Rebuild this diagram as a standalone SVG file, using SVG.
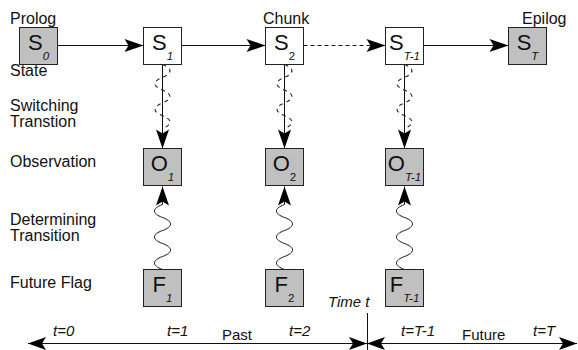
<svg xmlns="http://www.w3.org/2000/svg" width="578" height="350" viewBox="0 0 578 350">
  <style>
    text { font-family: "Liberation Sans", Arial, sans-serif; fill: #111; }
    .lbl { font-size: 16px; }
    .tl { font-size: 15px; font-style: italic; }
    .tn { font-size: 15px; }
    .box { stroke: #222; stroke-width: 1; }
    .shade { fill: #c0c0c0; }
    .plain { fill: #fff; }
    .nm { font-size: 22px; text-anchor: middle; }
    .sub { font-size: 11.5px; }
    .it { font-style: italic; }
    .ln { fill: none; stroke: #111; stroke-width: 1; }
    .dash { stroke-dasharray: 4 3; }
    .wdash { fill: none; stroke: #222; stroke-width: 1.1; stroke-dasharray: 4 4; }
  </style>
  <defs>
    <marker id="ah" markerUnits="userSpaceOnUse" markerWidth="22" markerHeight="16" viewBox="-20 -8 22 16" refX="0" refY="0" orient="auto">
      <path d="M0,0 L-19,-6.5 L-15,0 L-19,6.5 Z" fill="#000"/>
    </marker>
    <marker id="ah2" markerUnits="userSpaceOnUse" markerWidth="22" markerHeight="16" viewBox="-20 -8 22 16" refX="0" refY="0" orient="auto-start-reverse">
      <path d="M0,0 L-18,-6.5 L-14,0 L-18,6.5 Z" fill="#000"/>
    </marker>
  </defs>

  <!-- row and side labels -->
  <g id="labels">
    <text class="lbl" x="10" y="24">Prolog</text>
    <text class="lbl" x="10" y="76">State</text>
    <text class="lbl" x="10" y="111">Switching</text>
    <text class="lbl" x="10" y="127">Transtion</text>
    <text class="lbl" x="10" y="167">Observation</text>
    <text class="lbl" x="10" y="225">Determining</text>
    <text class="lbl" x="10" y="241">Transition</text>
    <text class="lbl" x="10" y="288">Future Flag</text>
    <text class="lbl" x="263" y="24">Chunk</text>
    <text class="lbl" x="522" y="24">Epilog</text>
  </g>

  <!-- connectors -->
  <g id="connectors">
    <!-- state chain -->
    <line class="ln" x1="57.5" y1="45.5" x2="143.5" y2="45.5" marker-end="url(#ah)"/>
    <line class="ln" x1="181.5" y1="45.5" x2="265.5" y2="45.5" marker-end="url(#ah)"/>
    <line class="ln dash" x1="303.5" y1="45.5" x2="385.5" y2="45.5" marker-end="url(#ah)"/>
    <line class="ln" x1="423.5" y1="45.5" x2="508.5" y2="45.5" marker-end="url(#ah)"/>

    <!-- switching transitions: state to observation -->
    <line class="ln" x1="162.5" y1="64.5" x2="162.5" y2="148.5" marker-end="url(#ah)"/>
    <line class="ln" x1="284.5" y1="64.5" x2="284.5" y2="148.5" marker-end="url(#ah)"/>
    <line class="ln" x1="404.5" y1="64.5" x2="404.5" y2="148.5" marker-end="url(#ah)"/>
    <path class="wdash" d="M162.5,64.5 c10,3.8 10,9 0,12.8 c-10,3.8 -10,9 0,12.8 c10,3.8 10,9 0,12.8 c-10,3.8 -10,9 0,12.8 c10,3.8 10,9 0,12.8"/>
    <path class="wdash" d="M284.5,64.5 c10,3.8 10,9 0,12.8 c-10,3.8 -10,9 0,12.8 c10,3.8 10,9 0,12.8 c-10,3.8 -10,9 0,12.8 c10,3.8 10,9 0,12.8"/>
    <path class="wdash" d="M404.5,64.5 c10,3.8 10,9 0,12.8 c-10,3.8 -10,9 0,12.8 c10,3.8 10,9 0,12.8 c-10,3.8 -10,9 0,12.8 c10,3.8 10,9 0,12.8"/>

    <!-- determining transitions: flag to observation -->
    <path class="ln" d="M162.5,269.5 c-10.7,-3.9 -10.7,-9.1 0,-13 c10.7,-3.9 10.7,-9.1 0,-13 c-10.7,-3.9 -10.7,-9.1 0,-13 c10.7,-3.9 10.7,-9.1 0,-13 c-10.7,-3.9 -10.7,-9.1 0,-13 L162.5,186.5" marker-end="url(#ah)"/>
    <path class="ln" d="M284.5,269.5 c-10.7,-3.9 -10.7,-9.1 0,-13 c10.7,-3.9 10.7,-9.1 0,-13 c-10.7,-3.9 -10.7,-9.1 0,-13 c10.7,-3.9 10.7,-9.1 0,-13 c-10.7,-3.9 -10.7,-9.1 0,-13 L284.5,186.5" marker-end="url(#ah)"/>
    <path class="ln" d="M404.5,269.5 c-10.7,-3.9 -10.7,-9.1 0,-13 c10.7,-3.9 10.7,-9.1 0,-13 c-10.7,-3.9 -10.7,-9.1 0,-13 c10.7,-3.9 10.7,-9.1 0,-13 c-10.7,-3.9 -10.7,-9.1 0,-13 L404.5,186.5" marker-end="url(#ah)"/>

    <!-- time axis -->
    <line class="ln" x1="28" y1="343.5" x2="367" y2="343.5" marker-start="url(#ah2)" marker-end="url(#ah2)"/>
    <line class="ln" x1="367" y1="343.5" x2="577" y2="343.5" marker-start="url(#ah2)" marker-end="url(#ah2)"/>
    <line class="ln" x1="367.5" y1="313" x2="367.5" y2="350"/>
  </g>

  <!-- states -->
  <g id="s0">
    <rect class="box shade" x="19.5" y="27.5" width="38" height="37"/>
    <text class="nm" x="38.5" y="50">S<tspan class="sub it" dy="10">0</tspan></text>
  </g>
  <g id="s1">
    <rect class="box plain" x="143.5" y="27.5" width="38" height="37"/>
    <text class="nm" x="162.5" y="50">S<tspan class="sub it" dy="10">1</tspan></text>
  </g>
  <g id="s2">
    <rect class="box plain" x="265.5" y="27.5" width="38" height="37"/>
    <text class="nm" x="284.5" y="50">S<tspan class="sub" dy="10">2</tspan></text>
  </g>
  <g id="s-t-1">
    <rect class="box plain" x="385.5" y="27.5" width="38" height="37"/>
    <text class="nm" x="404.5" y="50">S<tspan class="sub it" dy="10">T-1</tspan></text>
  </g>
  <g id="s-t">
    <rect class="box shade" x="508.5" y="27.5" width="38" height="37"/>
    <text class="nm" x="527.5" y="50">S<tspan class="sub it" dy="10">T</tspan></text>
  </g>

  <!-- observations -->
  <g id="o1">
    <rect class="box shade" x="143.5" y="148.5" width="38" height="37"/>
    <text class="nm" x="162.5" y="171">O<tspan class="sub it" dy="10">1</tspan></text>
  </g>
  <g id="o2">
    <rect class="box shade" x="265.5" y="148.5" width="38" height="37"/>
    <text class="nm" x="284.5" y="171">O<tspan class="sub" dy="10">2</tspan></text>
  </g>
  <g id="o-t-1">
    <rect class="box shade" x="385.5" y="148.5" width="38" height="37"/>
    <text class="nm" x="404.5" y="171">O<tspan class="sub it" dy="10">T-1</tspan></text>
  </g>

  <!-- future flags -->
  <g id="f1">
    <rect class="box shade" x="143.5" y="269.5" width="38" height="37"/>
    <text class="nm" x="162.5" y="292">F<tspan class="sub it" dy="10">1</tspan></text>
  </g>
  <g id="f2">
    <rect class="box shade" x="265.5" y="269.5" width="38" height="37"/>
    <text class="nm" x="284.5" y="292">F<tspan class="sub" dy="10">2</tspan></text>
  </g>
  <g id="f-t-1">
    <rect class="box shade" x="385.5" y="269.5" width="38" height="37"/>
    <text class="nm" x="404.5" y="292">F<tspan class="sub it" dy="10">T-1</tspan></text>
  </g>

  <!-- time axis labels -->
  <g id="axis-labels">
    <text class="tl" x="328" y="307">Time t</text>
    <text class="tl" x="53" y="336">t=0</text>
    <text class="tl" x="167" y="336">t=1</text>
    <text class="tl" x="289" y="336">t=2</text>
    <text class="tl" x="401" y="336">t=T-1</text>
    <text class="tl" x="533" y="336">t=T</text>
    <text class="tn" x="222" y="340">Past</text>
    <text class="tn" x="462" y="340">Future</text>
  </g>
</svg>
